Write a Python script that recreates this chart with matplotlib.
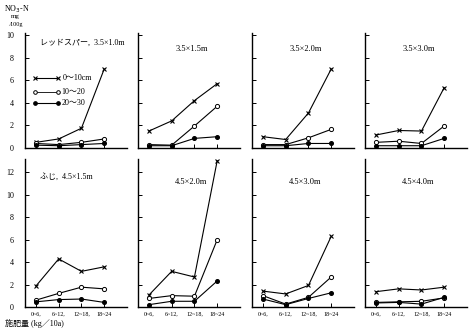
import numpy as np
import matplotlib
import matplotlib.pyplot as plt

matplotlib.rcParams['font.family'] = ['Liberation Serif', 'Noto Sans CJK JP']

# 施肥量の区分
periods = ['0~6,', '6~12,', '12~18,', '18~24']

# 各区の NO3-N (mg/100g)、上段: レッドスパー、下段: ふじ
titles = ['レッドスパー,  3.5×1.0m', '3.5×1.5m', '3.5×2.0m', '3.5×3.0m',
          'ふじ,  4.5×1.5m', '4.5×2.0m', '4.5×3.0m', '4.5×4.0m']
depth_0_10 = [
    [0.5, 0.8, 1.75, 7.0],
    [1.5, 2.4, 4.2, 5.7],
    [1.0, 0.75, 3.1, 7.0],
    [1.15, 1.55, 1.5, 5.35],
    [1.9, 4.3, 3.2, 3.6],
    [1.1, 3.2, 2.7, 13.0],
    [1.45, 1.2, 1.95, 6.3],
    [1.4, 1.65, 1.55, 1.8],
]
depth_10_20 = [
    [0.4, 0.3, 0.5, 0.8],
    [0.3, 0.25, 1.95, 3.7],
    [0.3, 0.3, 0.9, 1.65],
    [0.5, 0.6, 0.4, 1.95],
    [0.65, 1.25, 1.8, 1.65],
    [0.8, 1.05, 1.0, 6.0],
    [1.05, 0.3, 0.9, 2.7],
    [0.45, 0.5, 0.55, 0.85],
]
depth_20_30 = [
    [0.25, 0.2, 0.3, 0.4],
    [0.2, 0.2, 0.85, 1.0],
    [0.2, 0.2, 0.4, 0.4],
    [0.2, 0.2, 0.2, 0.85],
    [0.5, 0.7, 0.75, 0.45],
    [0.25, 0.55, 0.55, 2.35],
    [0.75, 0.25, 0.8, 1.3],
    [0.4, 0.45, 0.3, 0.9],
]

fig = plt.figure(figsize=(4.75, 3.33), dpi=100)
lefts = [0.0526, 0.2905, 0.5305, 0.7684]
x = np.arange(4)

for i in range(8):
    row, col = divmod(i, 4)
    if row == 0:
        ax = fig.add_axes([lefts[col], 0.5556, 0.2147, 0.345])
        ax.set_ylim(0, 10.18)
        ax.set_yticks([0, 2, 4, 6, 8, 10])
        ty = 9.1
    else:
        ax = fig.add_axes([lefts[col], 0.0766, 0.2147, 0.446])
        ax.set_ylim(0, 13.15)
        ax.set_yticks([0, 2, 4, 6, 8, 10, 12])
        ty = 11.4
    ax.set_xlim(-0.48, 4.0)
    ax.set_xticks(x)

    ax.plot(x, depth_0_10[i], color='black', lw=0.8, marker='x', ms=3.5, mew=0.8)
    ax.plot(x, depth_10_20[i], color='black', lw=0.8, marker='o', ms=3,
            mfc='white', mew=0.7)
    ax.plot(x, depth_20_30[i], color='black', lw=0.8, marker='o', ms=2.6)

    for s in ['top', 'right']:
        ax.spines[s].set_visible(False)
    ax.spines['left'].set_linewidth(1.0)
    ax.spines['bottom'].set_linewidth(1.0)
    ax.tick_params(direction='in', length=3, width=0.7, labelsize=5.8, pad=8)
    ax.patch.set_alpha(0)

    if col > 0:
        ax.set_yticklabels([])
    if row == 0:
        ax.set_xticklabels([])
    else:
        ax.set_xticklabels(periods, fontsize=4.3)
        ax.tick_params(axis='x', pad=3)

    if i == 0:
        ax.text(0.2, ty, titles[i], fontsize=5.8)
    elif i == 4:
        ax.text(0.2, ty, titles[i], fontsize=5.8)
    else:
        ax.text(1.15, ty - 0.5, titles[i], fontsize=6)

    # 凡例
    if i == 0:
        ly = [6.2, 5.0, 4.0]
        ax.plot([-0.05, 0.95], [ly[0], ly[0]], color='black', lw=0.8,
                marker='x', ms=3.5, mew=0.8)
        ax.plot([-0.05, 0.95], [ly[1], ly[1]], color='black', lw=0.6,
                marker='o', ms=2.6, mfc='white', mew=0.7)
        ax.plot([-0.05, 0.95], [ly[2], ly[2]], color='black', lw=0.8,
                marker='o', ms=2.4)
        ax.text(1.2, ly[0], '0～10cm', fontsize=5.8, va='center')
        ax.text(1.12, ly[1], '10～20', fontsize=5.8, va='center')
        ax.text(1.12, ly[2], '20～30', fontsize=5.8, va='center')

fig.text(0.008, 0.99, 'NO$_3$-N', fontsize=5.8, va='top')
fig.text(0.024, 0.958, 'mg', fontsize=5, va='top')
fig.text(0.02, 0.935, '∕100g', fontsize=4.5, va='top')
fig.text(0.01, 0.02, '施肥量 (kg／10a)', fontsize=5.8)

fig.savefig('out.png', dpi=100)
